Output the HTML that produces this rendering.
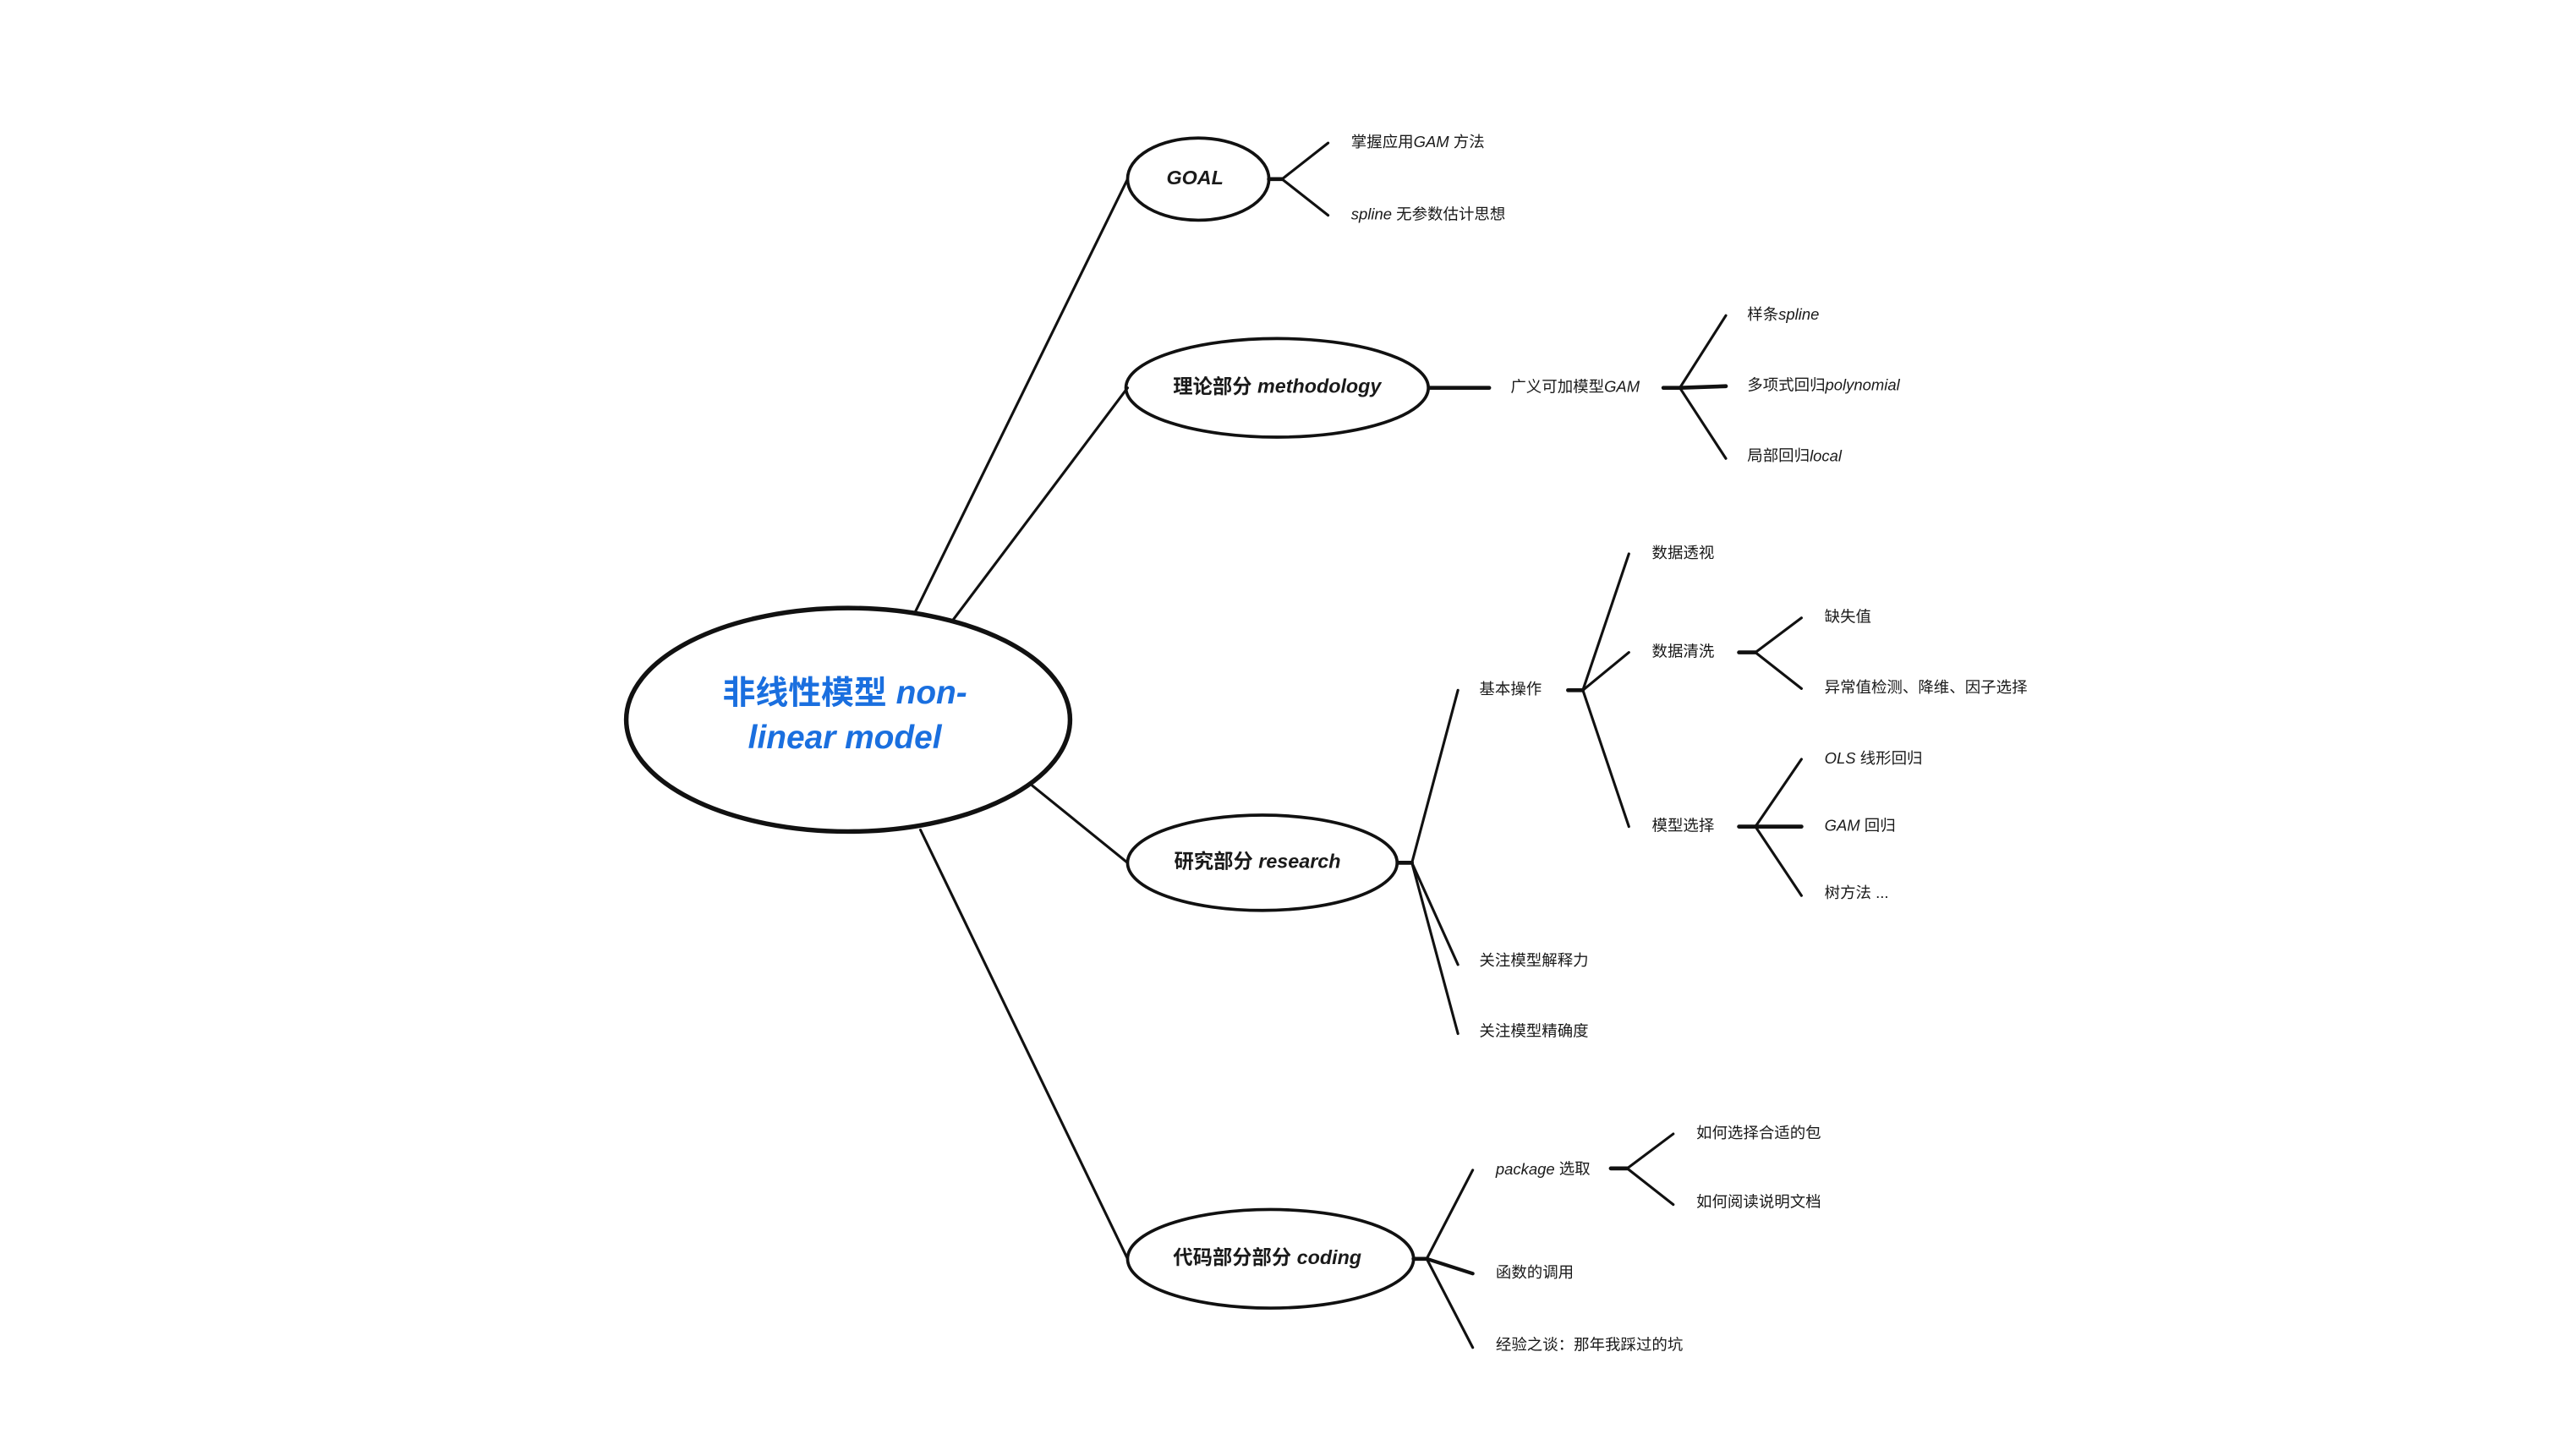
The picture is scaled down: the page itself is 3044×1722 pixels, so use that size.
<!DOCTYPE html>
<html><head><meta charset="utf-8"><style>
html,body{margin:0;padding:0;background:#fff;}
svg{display:block;}
text{font-family:"Liberation Sans","Noto Sans CJK SC",sans-serif;fill:#1a1a1a;dominant-baseline:middle;}
.s{font-size:9.5px;}
.b{font-size:12px;font-weight:bold;}
.i{font-style:italic;}
</style></head><body>
<svg width="3044" height="1722" viewBox="0 0 1566 886" preserveAspectRatio="none" xmlns="http://www.w3.org/2000/svg">
<g fill="none" stroke="#111" stroke-width="1.6" stroke-linecap="round">
<line x1="557" y1="372" x2="686" y2="109"/>
<line x1="580" y1="377" x2="686" y2="236"/>
<line x1="628" y1="478" x2="686" y2="525"/>
<line x1="560" y1="505" x2="686" y2="766"/>
<ellipse cx="516" cy="438" rx="135" ry="68" stroke-width="2.8"/>
<ellipse cx="729" cy="109" rx="43" ry="25" stroke-width="1.9"/>
<ellipse cx="777" cy="236" rx="92" ry="30" stroke-width="1.9"/>
<ellipse cx="768" cy="525" rx="82" ry="29" stroke-width="1.9"/>
<ellipse cx="773" cy="766" rx="87" ry="30" stroke-width="1.9"/>
<line x1="772" y1="109" x2="780" y2="109" stroke-width="2.4"/>
<line x1="780" y1="109" x2="808" y2="87"/><line x1="780" y1="109" x2="808" y2="131"/>
<line x1="870" y1="236" x2="906" y2="236" stroke-width="2.4"/>
<line x1="1012" y1="236" x2="1022" y2="236" stroke-width="2.4"/>
<line x1="1022" y1="236" x2="1050" y2="192"/><line x1="1022" y1="236" x2="1050" y2="235" stroke-width="2.4"/><line x1="1022" y1="236" x2="1050" y2="279"/>
<line x1="851" y1="525" x2="859" y2="525" stroke-width="2.4"/>
<line x1="859" y1="525" x2="887" y2="420"/><line x1="859" y1="525" x2="887" y2="587"/><line x1="859" y1="525" x2="887" y2="629"/>
<line x1="954" y1="420" x2="963" y2="420" stroke-width="2.4"/>
<line x1="963" y1="420" x2="991" y2="337"/><line x1="963" y1="420" x2="991" y2="397"/><line x1="963" y1="420" x2="991" y2="503"/>
<line x1="1058" y1="397" x2="1068" y2="397" stroke-width="2.4"/>
<line x1="1068" y1="397" x2="1096" y2="376"/><line x1="1068" y1="397" x2="1096" y2="419"/>
<line x1="1058" y1="503" x2="1068" y2="503" stroke-width="2.4"/>
<line x1="1068" y1="503" x2="1096" y2="462"/><line x1="1068" y1="503" x2="1096" y2="503" stroke-width="2.4"/><line x1="1068" y1="503" x2="1096" y2="545"/>
<line x1="860" y1="766" x2="868" y2="766" stroke-width="2.4"/>
<line x1="868" y1="766" x2="896" y2="712"/><line x1="868" y1="766" x2="896" y2="775" stroke-width="2.2"/><line x1="868" y1="766" x2="896" y2="820"/>
<line x1="980" y1="711" x2="990" y2="711" stroke-width="2.4"/>
<line x1="990" y1="711" x2="1018" y2="690"/><line x1="990" y1="711" x2="1018" y2="733"/>
</g>
<text x="514" y="423" text-anchor="middle" style="font-size:20px;font-weight:bold;fill:#1a6fdf">非线性模型 <tspan font-style="italic">non-</tspan></text>
<text x="514" y="450" text-anchor="middle" style="font-size:20px;font-weight:bold;fill:#1a6fdf;font-style:italic">linear model</text>
<text x="727" y="109" text-anchor="middle" class="b i">GOAL</text>
<text x="777" y="236" text-anchor="middle" class="b">理论部分 <tspan font-style="italic">methodology</tspan></text>
<text x="765" y="525" text-anchor="middle" class="b">研究部分 <tspan font-style="italic">research</tspan></text>
<text x="771" y="766" text-anchor="middle" class="b">代码部分部分 <tspan font-style="italic">coding</tspan></text>
<text x="822" y="87" class="s">掌握应用<tspan font-style="italic">GAM</tspan> 方法</text>
<text x="822" y="131" class="s"><tspan font-style="italic">spline</tspan> 无参数估计思想</text>
<text x="919" y="236" class="s">广义可加模型<tspan font-style="italic">GAM</tspan></text>
<text x="1063" y="192" class="s">样条<tspan font-style="italic">spline</tspan></text>
<text x="1063" y="235" class="s">多项式回归<tspan font-style="italic">polynomial</tspan></text>
<text x="1063" y="278" class="s">局部回归<tspan font-style="italic">local</tspan></text>
<text x="900" y="420" class="s">基本操作</text>
<text x="900" y="585" class="s">关注模型解释力</text>
<text x="900" y="628" class="s">关注模型精确度</text>
<text x="1005" y="337" class="s">数据透视</text>
<text x="1005" y="397" class="s">数据清洗</text>
<text x="1005" y="503" class="s">模型选择</text>
<text x="1110" y="376" class="s">缺失值</text>
<text x="1110" y="419" class="s">异常值检测、降维、因子选择</text>
<text x="1110" y="462" class="s"><tspan font-style="italic">OLS</tspan> 线形回归</text>
<text x="1110" y="503" class="s"><tspan font-style="italic">GAM</tspan> 回归</text>
<text x="1110" y="544" class="s">树方法 ...</text>
<text x="910" y="712" class="s"><tspan font-style="italic">package</tspan> 选取</text>
<text x="910" y="775" class="s">函数的调用</text>
<text x="910" y="819" class="s">经验之谈：那年我踩过的坑</text>
<text x="1032" y="690" class="s">如何选择合适的包</text>
<text x="1032" y="732" class="s">如何阅读说明文档</text>
</svg>
</body></html>
